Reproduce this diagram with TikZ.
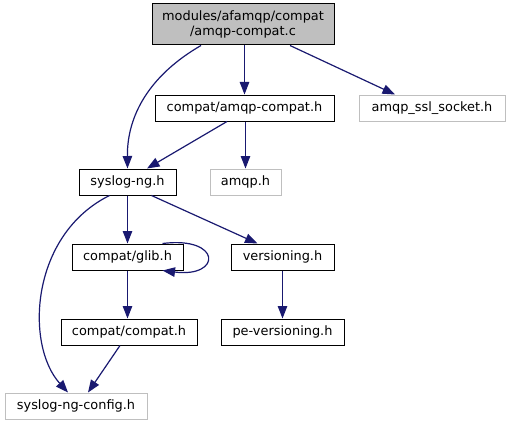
\documentclass[tikz,border=0pt]{standalone}
\usepackage{fontspec}
\setmainfont{DejaVu Sans}
\usepackage{tikz}
\usetikzlibrary{arrows.meta,positioning}
\definecolor{edgeblue}{HTML}{191970}
\definecolor{graybox}{HTML}{BFBFBF}
\begin{document}
\begin{tikzpicture}[x=1pt,y=-1pt,every node/.style={font=\fontsize{12.9}{14.5}\selectfont,align=center,inner xsep=2pt,inner ysep=0pt,minimum height=26pt},file/.style={draw=black,line width=1pt,fill=white},ext/.style={draw=graybox,line width=1pt,fill=white},dep/.style={-{Triangle[length=12.5pt,width=9.5pt]},edgeblue,line width=1.2pt}]
\useasboundingbox (0,0) rectangle (510,425);
\node[draw=black,fill=graybox,line width=1pt,minimum width=182pt,minimum height=41pt] (main) at (243,24.5) {modules/afamqp/compat\\ /amqp-compat.c};
\node[file,minimum width=179pt] (amqpcompat) at (244.5,108) {compat/amqp-compat.h};
\node[ext,minimum width=146pt] (sslsocket) at (432,108) {amqp\_ssl\_socket.h};
\node[file,minimum width=97pt] (syslogng) at (127.5,182) {syslog-ng.h};
\node[ext,minimum width=71pt] (amqph) at (245.5,182) {amqp.h};
\node[file,minimum width=111pt] (glib) at (127.5,257) {compat/glib.h};
\node[file,minimum width=103pt] (versioning) at (282.5,257) {versioning.h};
\node[file,minimum width=136pt] (compat) at (129,332) {compat/compat.h};
\node[file,minimum width=123pt] (pever) at (282.5,332) {pe-versioning.h};
\node[ext,minimum width=142pt] (config) at (76,406) {syslog-ng-config.h};
\draw[dep] (amqpcompat.north |- main.south) -- (amqpcompat.north);
\draw[dep] ([xshift=-42pt]main.south) .. controls (150,75) and (127,115) .. (syslogng.north);
\draw[dep] ([xshift=47pt]main.south) -- ([xshift=-37pt]sslsocket.north);
\draw[dep] ([xshift=-17.5pt]amqpcompat.south) -- ([xshift=19.5pt]syslogng.north);
\draw[dep] (amqph.north |- amqpcompat.south) -- (amqph.north);
\draw[dep] (syslogng) -- (glib);
\draw[dep] ([xshift=24pt]syslogng.south) -- ([xshift=-25pt]versioning.north);
\draw[dep] ([xshift=-18pt]syslogng.south) .. controls (30,235) and (25,345) .. ([xshift=-8pt]config.north);
\draw[dep] ([xshift=-21pt]glib.north east) .. controls (222,236) and (222,278) .. ([xshift=-21pt]glib.south east);
\draw[dep] (glib.south) -- (glib.south |- compat.north);
\draw[dep] ([xshift=-9pt]compat.south) -- ([xshift=12pt]config.north);
\draw[dep] (versioning) -- (pever);
\end{tikzpicture}
\end{document}
